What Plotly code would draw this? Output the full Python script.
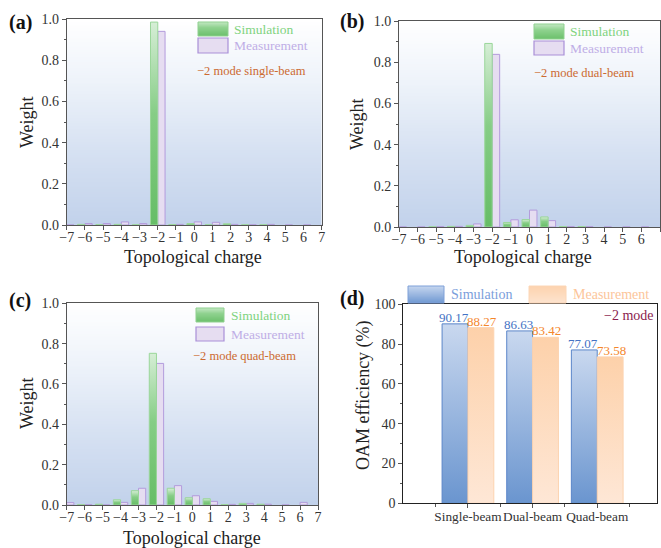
import zlib, struct, base64
import plotly.graph_objects as go

W, H = 661, 548
FONT = "Liberation Serif"

# ---------------- data ----------------
charges = list(range(-7, 8))
charge_labels = ["−7", "−6", "−5", "−4", "−3", "−2", "−1", "0", "1", "2", "3", "4", "5", "6", "7"]

sim_single = [0.0, 0.003, 0.002, 0.003, 0.001, 0.985, 0.002, 0.007, 0.001, 0.006, 0.001, 0.001, 0.0, 0.0, 0.0]
meas_single = [0.0, 0.007, 0.007, 0.015, 0.007, 0.940, 0.003, 0.015, 0.013, 0.003, 0.001, 0.003, 0.0, 0.0, 0.0]

sim_dual = [0.0, 0.0, 0.001, 0.003, 0.008, 0.891, 0.022, 0.036, 0.049, 0.002, 0.002, 0.0, 0.0, 0.0, 0.0]
meas_dual = [0.0, 0.0, 0.002, 0.003, 0.015, 0.838, 0.035, 0.082, 0.031, 0.002, 0.002, 0.0, 0.0, 0.0, 0.0]

sim_quad = [0.0, 0.002, 0.004, 0.026, 0.071, 0.752, 0.083, 0.036, 0.031, 0.002, 0.008, 0.004, 0.0, 0.0, 0.0]
meas_quad = [0.012, 0.002, 0.0, 0.013, 0.083, 0.702, 0.096, 0.046, 0.018, 0.003, 0.008, 0.004, 0.0, 0.013, 0.0]

beam_types = ["Single-beam", "Dual-beam", "Quad-beam"]
eff_sim = [90.17, 86.63, 77.07]
eff_meas = [88.27, 83.42, 73.58]

mode_texts = ["−2 mode single-beam", "−2 mode dual-beam", "−2 mode quad-beam"]

# ---------------- styles ----------------
BW = 0.4
AXC = "#555555"
TXC = "#333333"
GREEN_SCALE = [[0, "#66bd66"], [0.55, "#86cd86"], [1, "#d6eed6"]]
GREEN_EDGE = "#9ad69a"
PURPLE_FILL = "#e6ddf1"
PURPLE_EDGE = "#b39cdc"
BLUE_SCALE = [[0, "#6a95cf"], [1, "#c9d8ef"]]
BLUE_EDGE = "#5b86c9"
PEACH_SCALE = [[0, "#fee7d6"], [1, "#fdd1aa"]]
PEACH_EDGE = "#fcd3b0"
BG_STOPS = [(0, "#c2d2eb"), (0.35, "#d6e1f2"), (0.7, "#eef3fa"), (1, "#ffffff")]


def hex2rgb(h):
    h = h.lstrip("#")
    return [int(h[i:i + 2], 16) for i in (0, 2, 4)]


def colour_at(stops, t):
    for (t0, c0), (t1, c1) in zip(stops[:-1], stops[1:]):
        if t0 <= t <= t1:
            f = (t - t0) / (t1 - t0) if t1 > t0 else 0
            a, b = hex2rgb(c0), hex2rgb(c1)
            return [round(a[i] + (b[i] - a[i]) * f) for i in range(3)]
    return hex2rgb(stops[-1][1])


def grad_png(stops, n=128, w=4):
    raw = b""
    for i in range(n):
        t = 1 - i / (n - 1)
        rgb = bytes(colour_at(stops, t))
        raw += b"\x00" + rgb * w

    def chunk(tag, data):
        c = struct.pack(">I", len(data)) + tag + data
        return c + struct.pack(">I", zlib.crc32(tag + data) & 0xFFFFFFFF)

    png = (b"\x89PNG\r\n\x1a\n"
           + chunk(b"IHDR", struct.pack(">IIBBBBB", w, n, 8, 2, 0, 0, 0))
           + chunk(b"IDAT", zlib.compress(raw))
           + chunk(b"IEND", b""))
    return "data:image/png;base64," + base64.b64encode(png).decode()


def px(x):
    return x / W


def py(y):
    return 1 - y / H


def grad_bar(xa, ya, x0, x1, h, scale, edge):
    return go.Scatter(
        x=[x0, x0, x1, x1, x0], y=[0, h, h, 0, 0], xaxis=xa, yaxis=ya,
        mode="lines", line=dict(color=edge, width=1), fill="toself",
        fillgradient=dict(type="vertical", colorscale=scale),
        hoverinfo="skip", showlegend=False)


fig = go.Figure()
images = []
shapes = []
annotations = []

# ---------------- panels (a)-(c) ----------------
panels = [
    ("x", "y", sim_single, meas_single),
    ("x2", "y2", sim_dual, meas_dual),
    ("x3", "y3", sim_quad, meas_quad),
]
bg_src = grad_png(BG_STOPS)
for xa, ya, sim, meas in panels:
    images.append(dict(source=bg_src, xref=xa, yref=ya, x=-7, y=1, sizex=14, sizey=1,
                       sizing="stretch", layer="below", xanchor="left", yanchor="top"))
    for c, v in zip(charges, sim):
        if v > 0:
            fig.add_trace(grad_bar(xa, ya, c - BW, c, v, GREEN_SCALE, GREEN_EDGE))
    fig.add_trace(go.Bar(x=charges, y=meas, width=BW, offset=0, xaxis=xa, yaxis=ya,
                         marker=dict(color=PURPLE_FILL, line=dict(color=PURPLE_EDGE, width=1)),
                         showlegend=False, hoverinfo="skip"))

# ---------------- panel (d) ----------------
xd = [1, 2, 3]
for c, v in zip(xd, eff_sim):
    fig.add_trace(grad_bar("x4", "y4", c - BW, c, v, BLUE_SCALE, BLUE_EDGE))
for c, v in zip(xd, eff_meas):
    fig.add_trace(grad_bar("x4", "y4", c, c + BW, v, PEACH_SCALE, PEACH_EDGE))
for c, v in zip(xd, eff_sim):
    annotations.append(dict(x=c - BW / 2, y=v, xref="x4", yref="y4", text=f"{v:.2f}",
                            showarrow=False, yanchor="bottom", yshift=-3, xshift=-1,
                            font=dict(family=FONT, size=13, color="#4472c4")))
for c, v in zip(xd, eff_meas):
    annotations.append(dict(x=c + BW / 2, y=v, xref="x4", yref="y4", text=f"{v:.2f}",
                            showarrow=False, yanchor="bottom", yshift=-3, xshift=1,
                            font=dict(family=FONT, size=13, color="#f4862b")))

# ---------------- legends (drawn) ----------------
def swatch(x0, y0, x1, y1, src, edge):
    images.append(dict(source=src, xref="paper", yref="paper", x=px(x0), y=py(y0),
                       sizex=px(x1) - px(x0), sizey=py(y0) - py(y1), sizing="stretch",
                       layer="above", xanchor="left", yanchor="top"))
    shapes.append(dict(type="rect", xref="paper", yref="paper", x0=px(x0), x1=px(x1),
                       y0=py(y1), y1=py(y0), line=dict(color=edge, width=1),
                       fillcolor="rgba(0,0,0,0)"))


def solid_swatch(x0, y0, x1, y1, fill, edge):
    shapes.append(dict(type="rect", xref="paper", yref="paper", x0=px(x0), x1=px(x1),
                       y0=py(y1), y1=py(y0), line=dict(color=edge, width=1.2),
                       fillcolor=fill))


def label(x, y, text, size, color, xanchor="left", bold=False, angle=0):
    t = f"<b>{text}</b>" if bold else text
    annotations.append(dict(x=px(x), y=py(y), xref="paper", yref="paper", text=t,
                            showarrow=False, xanchor=xanchor, yanchor="middle",
                            textangle=angle,
                            font=dict(family=FONT, size=size, color=color)))


green_src = grad_png([(0, "#6cc06c"), (0.6, "#8fd28f"), (1, "#c4e8c4")])
blue_src = grad_png([(0, "#7099d2"), (1, "#c6d6ef")])
peach_src = grad_png([(0, "#fde3cf"), (1, "#fdd3ae")])

leg_pos = [
    (198, 228, 22, 36, 38, 53, 232, 71, 251),
    (534, 564, 24, 39, 41, 55, 568, 73, 583.5),
    (196, 224, 308, 322, 327, 341, 229, 356, 244),
]
for (x0, x1, ya0, ya1, yb0, yb1, tx, my, mx), mt in zip(leg_pos, mode_texts):
    swatch(x0, ya0, x1, ya1, green_src, "#8fd08f")
    solid_swatch(x0, yb0, x1, yb1, PURPLE_FILL, "#a98fd8")
    label(tx, (ya0 + ya1) / 2, "Simulation", 13.5, "#7fd37f")
    label(tx, (yb0 + yb1) / 2, "Measurement", 13.5, "#bfaee6")
    label(mx, my, mt, 12.5, "#cc6a30", xanchor="center")

swatch(408, 286, 444, 303, blue_src, "#7ea0d8")
swatch(529, 286, 566, 303, peach_src, "#fcd6b6")
label(449, 294.5, "Simulation", 14, "#7b9edb")
label(571, 294.5, "Measurement", 14, "#fcc59a")
label(629, 315, "−2 mode", 14, "#8b1d4e", xanchor="center")

# panel letters
label(20, 22, "(a)", 20, "#111111", xanchor="center", bold=True)
label(351.5, 21, "(b)", 20, "#111111", xanchor="center", bold=True)
label(20, 300.5, "(c)", 20, "#111111", xanchor="center", bold=True)
label(351.5, 298.5, "(d)", 20, "#111111", xanchor="center", bold=True)

# axis titles
label(27, 122, "Weight", 18, "#222222", xanchor="center", angle=-90)
label(357, 124, "Weight", 18, "#222222", xanchor="center", angle=-90)
label(27, 403, "Weight", 18, "#222222", xanchor="center", angle=-90)
label(363, 395, "OAM efficiency (%)", 18, "#222222", xanchor="center", angle=-90)
label(192.5, 256.5, "Topological charge", 18, "#222222", xanchor="center")
label(522.5, 256.5, "Topological charge", 18, "#222222", xanchor="center")
label(192, 537.5, "Topological charge", 18, "#222222", xanchor="center")

# ---------------- axes ----------------
tickfont = dict(family=FONT, size=14, color=TXC)


def xcharge(dom, anchor):
    return dict(domain=dom, anchor=anchor, range=[-7, 7], tickmode="array",
                tickvals=charges, ticktext=charge_labels, ticks="outside", ticklen=4,
                tickcolor=AXC, showline=True, linecolor=AXC, linewidth=1, mirror=True,
                showgrid=False, zeroline=False, tickfont=tickfont, fixedrange=True,
                tickangle=0, automargin=False, ticklabelstandoff=-5)


def yweight(dom, anchor):
    return dict(domain=dom, anchor=anchor, range=[0, 1], tickmode="array",
                tickvals=[0, 0.2, 0.4, 0.6, 0.8, 1.0],
                ticktext=["0.0", "0.2", "0.4", "0.6", "0.8", "1.0"],
                ticks="outside", ticklen=4, tickcolor=AXC,
                minor=dict(dtick=0.1, tick0=0, ticks="outside", ticklen=2, tickcolor=AXC),
                showline=True, linecolor=AXC, linewidth=1, mirror=True,
                showgrid=False, zeroline=False, tickfont=tickfont, fixedrange=True,
                automargin=False)


fig.update_layout(
    width=W, height=H, autosize=False, margin=dict(l=0, r=0, t=0, b=0, pad=0),
    paper_bgcolor="white", plot_bgcolor="white", showlegend=False,
    barmode="overlay",
    xaxis=xcharge([px(66.7), px(321.7)], "y"),
    yaxis=yweight([py(225), py(19)], "x"),
    xaxis2=xcharge([px(399), px(660)], "y2"),
    yaxis2=yweight([py(227), py(21)], "x2"),
    xaxis3=xcharge([px(66.7), px(318)], "y3"),
    yaxis3=yweight([py(505), py(303.3)], "x3"),
    xaxis4=dict(domain=[px(403.3), px(656.7)], anchor="y4", range=[0, 3.92],
                tickmode="array", tickvals=xd, ticktext=beam_types, ticks="outside",
                ticklen=4, tickcolor=AXC, tickangle=0, automargin=False,
                ticklabelstandoff=-3,
                minor=dict(tick0=0.5, dtick=1, ticks="outside", ticklen=3, tickcolor=AXC),
                showline=True, linecolor="#222222", linewidth=1, mirror=True,
                showgrid=False, zeroline=False,
                tickfont=dict(family=FONT, size=13.3, color=TXC), fixedrange=True),
    yaxis4=dict(domain=[py(503.3), py(304.3)], anchor="x4", range=[0, 100],
                tickmode="array", tickvals=[0, 20, 40, 60, 80, 100], ticks="outside",
                ticklen=4, tickcolor=AXC, automargin=False,
                minor=dict(dtick=10, tick0=0, ticks="outside", ticklen=2, tickcolor=AXC),
                showline=True, linecolor="#222222", linewidth=1, mirror=True,
                showgrid=False, zeroline=False, tickfont=tickfont, fixedrange=True),
    images=images, shapes=shapes, annotations=annotations,
)

fig.write_html(
    "out.html",
    config={"responsive": False, "displayModeBar": False},
    post_script="document.body.style.margin='0px';document.body.style.padding='0px';"
                "document.documentElement.style.overflow='hidden';",
)
